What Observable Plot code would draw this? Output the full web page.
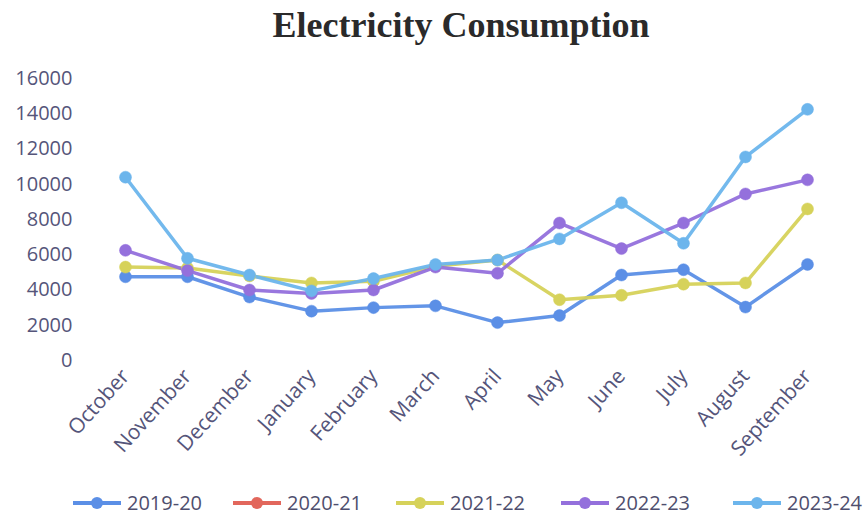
<!DOCTYPE html>
<html>
<head>
<meta charset="utf-8">
<script src="https://cdn.jsdelivr.net/npm/d3@7"></script>
<script src="https://cdn.jsdelivr.net/npm/@observablehq/plot@0.6"></script>
<style>
  html, body { margin: 0; padding: 0; background: #fff; }
  #wrap { width: 865px; height: 516px; position: relative; overflow: hidden; }
  #title { position: absolute; left: 0; top: 4px; width: 922px; text-align: center;
    font-family: "Liberation Serif", "DejaVu Serif", serif; font-weight: bold; font-size: 36px; color: #2a2a2a; }
  #chart { position: absolute; left: 0; top: 52px; }
  #legend { position: absolute; left: 0; top: 489px; width: 865px; height: 28px;
    font-family: "Open Sans", sans-serif; font-size: 20px; color: #4f4f6e; }
  .item { position: absolute; top: 0; display: flex; align-items: center; white-space: nowrap; }
  .item svg { margin-right: 6px; flex: none; }
</style>
</head>
<body>
<div id="wrap">
  <div id="title">Electricity Consumption</div>
  <div id="chart"></div>
  <div id="legend"></div>
</div>
<script>
const months = ["October","November","December","January","February","March","April","May","June","July","August","September"];
const seriesNames = ["2019-20","2020-21","2021-22","2022-23","2023-24"];
const colors = ["#5b8fe6","#e2675c","#d6d25a","#9470dc","#6cb5ec"];
const v2019_20 = [4750, 4750, 3600, 2800, 3000, 3100, 2150, 2550, 4850, 5150, 3030, 5450];
const v2020_21 = [null, null, null, null, null, null, null, null, null, null, null, null];
const v2021_22 = [5300, 5250, 4800, 4400, 4500, 5350, 5700, 3450, 3700, 4330, 4400, 8600];
const v2022_23 = [6250, 5100, 4000, 3800, 4000, 5300, 4950, 7800, 6350, 7800, 9450, 10250];
const v2023_24 = [10400, 5800, 4850, 3950, 4650, 5450, 5700, 6900, 8950, 6650, 11550, 14250];
const yTicks = [0, 2000, 4000, 6000, 8000, 10000, 12000, 14000, 16000];

const allValues = [v2019_20, v2020_21, v2021_22, v2022_23, v2023_24];
const data = [];
seriesNames.forEach((s, i) => {
  months.forEach((m, j) => {
    const v = allValues[i][j];
    if (v != null) data.push({series: s, month: m, value: v});
  });
});

const chart = Plot.plot({
  width: 865,
  height: 420,
  marginLeft: 124,
  marginRight: 57,
  marginTop: 26,
  marginBottom: 112,
  style: {fontFamily: "'Open Sans', sans-serif", fontSize: "20px", color: "#55557a", background: "transparent"},
  x: {type: "point", domain: months, padding: 0, label: null, axis: null},
  y: {domain: [0, 16000], label: null, axis: null},
  color: {domain: seriesNames, range: colors},
  marks: [
    Plot.axisY({ticks: yTicks, tickSize: 0, tickPadding: 52, label: null, fontSize: 20, fill: "#55557a", tickFormat: d => String(d)}),
    Plot.axisX({tickSize: 0, tickRotate: -48, tickPadding: 12, label: null, fontSize: 21, fill: "#55557a"}),
    Plot.line(data, {x: "month", y: "value", z: "series", stroke: "series", strokeWidth: 3.5, strokeOpacity: 0.95}),
    Plot.dot(data, {x: "month", y: "value", fill: "series", r: 6, stroke: "series", strokeWidth: 0.5})
  ]
});
document.getElementById("chart").appendChild(chart);

const legendPos = [73, 233, 396, 561, 733];
const legend = document.getElementById("legend");
seriesNames.forEach((s, i) => {
  const div = document.createElement("div");
  div.className = "item";
  div.style.left = legendPos[i] + "px";
  div.innerHTML = `<svg width="48" height="14"><line x1="0" y1="7" x2="48" y2="7" stroke="${colors[i]}" stroke-width="4"/><circle cx="24" cy="7" r="6" fill="${colors[i]}"/></svg><span>${s}</span>`;
  legend.appendChild(div);
});
</script>
</body>
</html>
